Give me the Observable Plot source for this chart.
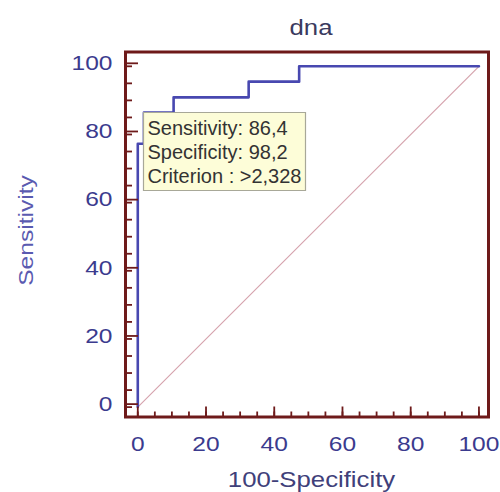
<!DOCTYPE html>
<html>
<head>
<meta charset="utf-8">
<script src="https://cdn.jsdelivr.net/npm/d3@7"></script>
<script src="https://cdn.jsdelivr.net/npm/@observablehq/plot@0.6"></script>
<style>
  html, body { margin: 0; padding: 0; background: #ffffff; }
</style>
</head>
<body>
<div id="chart"></div>
<script>
// ROC curve corner points (100-Specificity, Sensitivity)
const rocX = [0, 0, 1.8, 10.5, 32.5, 47.3, 100];
const rocY = [0, 77.3, 86.4, 90.9, 95.5, 100, 100];
// Reference diagonal
const diagX = [0, 100];
const diagY = [0, 100];
// Ticks
const majorTicks = [0, 20, 40, 60, 80, 100];
const minorTicks = [0, 5, 10, 15, 20, 25, 30, 35, 40, 45, 50, 55, 60, 65, 70, 75, 80, 85, 90, 95, 100];
// Criterion annotation
const critX = [1.8];
const critY = [86.4];
const critLabel = ["Sensitivity: 86,4\nSpecificity: 98,2\nCriterion : >2,328"];
// Texts
const titleText = ["dna"];
const xLabelText = ["100-Specificity"];
const yLabelText = ["Sensitivity"];

const roc = rocX.map((x, i) => ({x, y: rocY[i]}));
const diag = diagX.map((x, i) => ({x, y: diagY[i]}));
const crit = critX.map((x, i) => ({x, y: critY[i], label: critLabel[i]}));

const FONT = "Liberation Sans, Arial, Helvetica, sans-serif";
const FRAME = "#6e1a1a";
const TICKTXT = "#3b3b8e";

const svg = Plot.plot({
  width: 500,
  height: 492,
  marginLeft: 125,
  marginRight: 12,
  marginTop: 51.5,
  marginBottom: 75.5,
  style: {fontFamily: FONT, background: "#ffffff", color: "#333333"},
  x: {domain: [-3.6, 102.8]},
  y: {domain: [-2.9, 104.2]},
  marks: [
    Plot.line(diag, {x: "x", y: "y", stroke: "#d6a4ae", strokeWidth: 1.2}),
    Plot.line(roc, {x: "x", y: "y", curve: "step-after", stroke: "#4848b0", strokeWidth: 2.6}),
    Plot.axisY({ticks: minorTicks, tickSize: -7, text: null, stroke: FRAME, strokeWidth: 1.8, label: null}),
    Plot.axisY({ticks: majorTicks, tickSize: -13, tickPadding: 26, stroke: FRAME, strokeWidth: 1.8,
      fill: TICKTXT, fontSize: 21, dy: -3, label: null}),
    Plot.axisX({ticks: minorTicks, tickSize: -5, text: null, stroke: FRAME, strokeWidth: 1.8, label: null}),
    Plot.axisX({ticks: majorTicks, tickSize: -10, tickPadding: 29, stroke: FRAME, strokeWidth: 1.8,
      fill: TICKTXT, fontSize: 21, label: null}),
    Plot.frame({stroke: FRAME, strokeWidth: 3}),
    Plot.text(titleText, {frameAnchor: "top", lineAnchor: "middle", textAnchor: "middle",
      dy: -24, dx: 4, fontSize: 22, fill: "#3a3a5e"}),
    Plot.text(xLabelText, {frameAnchor: "bottom", lineAnchor: "middle", textAnchor: "middle",
      dy: 63, dx: 4.5, fontSize: 22, fill: "#40407a"}),
    Plot.text(yLabelText, {frameAnchor: "left", lineAnchor: "middle", textAnchor: "middle",
      dx: -99, dy: -4, rotate: -90, fontSize: 21, fill: "#5a5ab0"}),
    Plot.tip(crit, {x: "x", y: "y", title: "label", anchor: "top-left", pointerSize: 0,
      fill: "#fdfdd8", stroke: "#a8a898", strokeWidth: 1.2, fontSize: 20, lineHeight: 1.2,
      textPadding: 4, fontFamily: FONT})
  ]
});

// widen the lettering slightly along its baseline, like the reference font
d3.select(svg).selectAll("text")
  .filter(function () { return !this.closest('g[aria-label="tip"]'); })
  .attr("transform", function () {
    const t = this.getAttribute("transform") || "";
    return (t + " scale(1.17,1)").trim();
  });
// no drop shadow on the annotation box
svg.querySelectorAll('g[aria-label="tip"], g[aria-label="tip"] path').forEach(el => {
  el.removeAttribute("filter");
  el.style.filter = "none";
});

document.getElementById("chart").appendChild(svg);
</script>
</body>
</html>
